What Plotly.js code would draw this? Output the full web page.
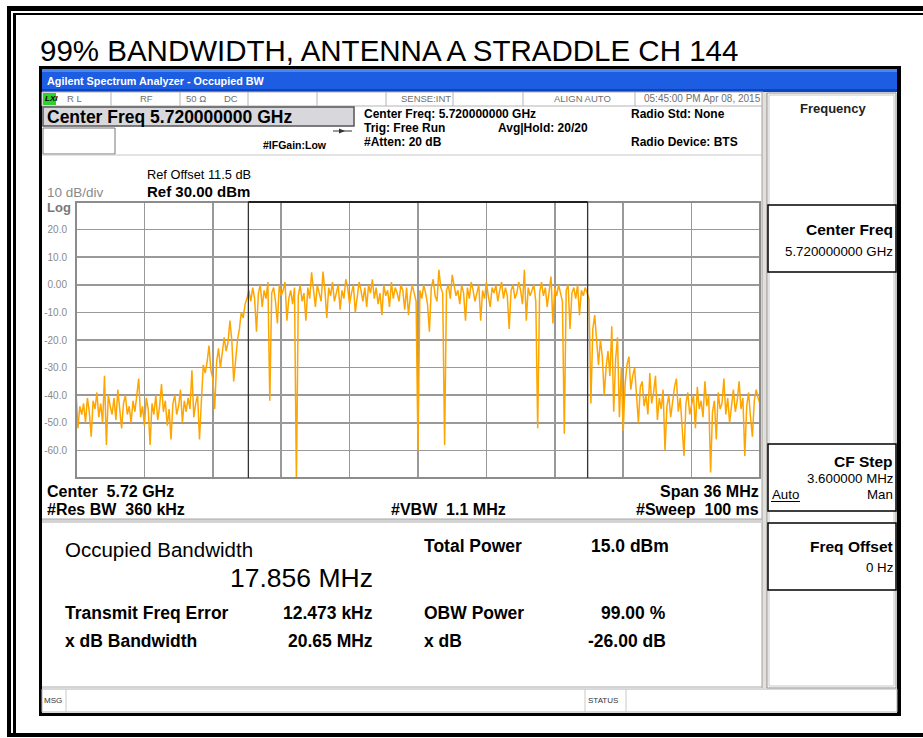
<!DOCTYPE html>
<html><head><meta charset="utf-8">
<script src="https://cdn.plot.ly/plotly-3.0.1.min.js"></script>
<style>html,body{margin:0;padding:0;background:#fff;overflow:hidden}#chart{width:923px;height:738px}</style>
</head><body><div id="chart"></div>
<script>
// Trace levels (dBm), one every 0.1 MHz from 5702 MHz to 5738 MHz
const levels = [
 -38,-52,-44,-47,-43,-50,-41,-46,-55,-42,
 -45,-39,-48,-43,-50,-33,-58,-40,-44,-47,
 -41,-49,-38,-45,-52,-43,-40,-47,-44,-50,
 -42,-46,-39,-34,-48,-44,-51,-41,-45,-58,
 -43,-47,-40,-49,-44,-36,-46,-42,-51,-45,
 -56,-43,-40,-47,-44,-38,-50,-42,-46,-41,
 -45,-31,-48,-43,-40,-56,-42,-29,-32,-28,
 -22,-31,-34,-45,-28,-23,-30,-25,-19,-24,
 -21,-13,-20,-35,-26,-20,-16,-10,-12,-7,
 -5,-2,-6,-1,-5,-17,-3,0,-8,-2,
 -5,1,-42,-3,-1,-6,-14,0,-4,-2,
 1,-13,-5,-2,-7,-1,-72,-4,0,-6,
 -3,-13,-1,-5,4.5,-2,-8,0,-3,-6,
 4.8,-2,-12,-1,-4,1,-6,-3,0,-9,
 -2,-5,2,-1,-7,-3,0,-10,-4,1,
 -2,-6,-1,-8,0,-3,2,-5,-1,-7,
 -3,-11,0,-4,-2,-8,1,-5,-1,-3,
 -6,0,-2,-9,-1,-11,-4,0,-3,-6,
 -60,-2,-5,0,-3,-7,-17,-1,2,-4,
 -6,5.4,-1,-3,-58,-2,0,-5,3.6,-1,
 -4,-2,-7,0,-3,-13,-1,-5,1,-2,
 -6,-3,0,-13,-2,-5,1,-4,-8,-1,
 -3,0,-6,-2,1,-5,-1,-4,-16,-2,
 0,-5,-3,1,-2,-7,5.4,-13,-1,-4,
 -2,0,-6,-52,-3,1,-4,-1,-8,-2,
 3,-14,-1,-4,0,-3,-6,-54,-2,0,
 -16,-3,-1,-5,0,-11,-2,-4,-1,-3,
 -5,-43,-16,-11,-22,-29,-20,-26,-40,-30,
 -24,-33,-15,-46,-27,-19,-48,-30,-53,-36,
 -29,-26,-38,-33,-30,-41,-50,-37,-35,-44,
 -40,-47,-32,-43,-39,-33,-49,-41,-45,-38,
 -60,-44,-40,-48,-42,-37,-34,-46,-41,-50,
 -62,-43,-39,-47,-44,-40,-52,-37,-45,-42,
 -48,-35,-44,-40,-68,-46,-42,-56,-39,-45,
 -43,-34,-47,-41,-50,-44,-38,-46,-42,-35,
 -45,-41,-62,-44,-39,-48,-55,-42,-38,-41,
 -43
];
const startMHz = 5702;
const stepMHz = 0.1;
const spanMHz = [5702, 5738];
const obwEdgesMHz = [5711.072, 5728.928];
const xGridMHz = [5705.6, 5709.2, 5712.8, 5716.4, 5720, 5723.6, 5727.2, 5730.8, 5734.4];
const yRange = [-70, 30];
const yTickVals = [20, 10, 0, -10, -20, -30, -40, -50, -60];
const yTickText = ['20.0', '10.0', '0.00', '-10.0', '-20.0', '-30.0', '-40.0', '-50.0', '-60.0'];

const freq = levels.map((_, i) => startMHz + i * stepMHz);

// pixel -> paper helpers (plot area: x 76..760, y 202..478)
const L = 76, R = 760, T = 202, B = 478;
const X = p => (p - L) / (R - L);
const Y = p => (B - p) / (B - T);
const FONT = 'Arial, "Liberation Sans", sans-serif';

const shapes = [];
function fill(x0, y0, x1, y1, color, layer) {
  shapes.push({type: 'rect', xref: 'paper', yref: 'paper', x0: X(x0), x1: X(x1), y0: Y(y1), y1: Y(y0),
    fillcolor: color, line: {width: 0}, layer: layer || 'below'});
}
function box(x0, y0, x1, y1, color, w, fillc, layer) {
  shapes.push({type: 'rect', xref: 'paper', yref: 'paper', x0: X(x0), x1: X(x1), y0: Y(y1), y1: Y(y0),
    fillcolor: fillc || 'rgba(0,0,0,0)', line: {color: color, width: w}, layer: layer || 'below'});
}
function seg(x0, y0, x1, y1, color, w, layer) {
  shapes.push({type: 'line', xref: 'paper', yref: 'paper', x0: X(x0), x1: X(x1), y0: Y(y0), y1: Y(y1),
    line: {color: color, width: w}, layer: layer || 'below'});
}
const ann = [];
function txt(s, x, y, size, o) {
  o = o || {};
  ann.push({xref: 'paper', yref: 'paper', x: X(x), y: Y(y), text: s, showarrow: false,
    xanchor: o.anchor || 'left', yanchor: 'middle', borderpad: 0,
    font: {family: o.family || FONT, size: size, color: o.color || '#000', weight: o.bold ? 'bold' : 'normal',
      style: o.italic ? 'italic' : 'normal'}});
}

// outer photo frame
fill(7, 6, 923, 11, '#000');
fill(7, 6, 11, 737, '#000');
fill(13, 13, 923, 15, '#000');
fill(13, 13, 16, 737, '#000');
fill(7, 733, 923, 737, '#000');

// instrument window
fill(39, 66, 901, 69, '#000');
fill(39, 66, 42, 716, '#000');
fill(897, 66, 901, 716, '#000');
fill(39, 713, 901, 716, '#000');
fill(42, 69, 897, 92, '#1D5DE2');
fill(42, 69, 897, 72, '#4A86F0');
fill(42, 89, 897, 92, '#0C43BE');
txt('Agilent Spectrum Analyzer - Occupied BW', 46, 81, 10.8, {color: '#fff', bold: true});

// status row
box(42, 92, 763, 106, '#b4b4b4', 1);
[111, 180, 248, 317, 386, 453, 523, 635].forEach(x => seg(x, 92, x, 106, '#b4b4b4', 1));
fill(43, 93, 56, 105, '#2ed12e');
txt('LXI', 43.5, 99, 8, {bold: true, italic: true});
txt('R L', 66, 99, 9.5, {color: '#707070'});
txt('RF', 139, 99, 9.5, {color: '#707070'});
txt('50 Ω', 185, 99, 9.5, {color: '#707070'});
txt('DC', 223, 99, 9.5, {color: '#707070'});
txt('SENSE:INT', 452, 99, 9.5, {color: '#707070', anchor: 'right'});
txt('ALIGN AUTO', 553, 99, 9.5, {color: '#707070'});
txt('05:45:00 PM Apr 08, 2015', 762, 99, 10, {color: '#707070', anchor: 'right'});

// header info
box(43, 107, 354, 126, '#555', 1.5, '#d8d8dc');
txt('Center Freq 5.720000000 GHz', 46, 117, 17.5, {bold: true});
box(43, 128, 115, 154, '#777', 1, '#fff');
seg(333, 131, 352, 131, '#333', 1);
shapes.push({type: 'path', xref: 'paper', yref: 'paper', layer: 'below',
  path: `M ${X(339)} ${Y(128.5)} L ${X(345)} ${Y(131)} L ${X(339)} ${Y(133.5)} Z`, fillcolor: '#333', line: {width: 0}});
txt('#IFGain:Low', 262, 145, 10.5, {bold: true});
txt('Center Freq: 5.720000000 GHz', 363, 114, 12, {bold: true});
txt('Trig: Free Run', 363, 128, 12, {bold: true});
txt('#Atten: 20 dB', 363, 142, 12, {bold: true});
txt('Avg|Hold: 20/20', 497, 128, 12, {bold: true});
txt('Radio Std: None', 630, 114, 12, {bold: true});
txt('Radio Device: BTS', 630, 142, 12, {bold: true});
seg(42, 155, 763, 155, '#c8c8c8', 1);

// main area border / softkey panel
fill(762, 92, 767, 688, '#e2e0da');
seg(762, 92, 762, 688, '#a0a0a0', 1);
box(767, 93, 896, 688, '#8c8c8c', 1, '#fff');
box(769, 95, 894, 686, '#c8c8c8', 1);
box(768, 205, 896, 272, '#000', 1.5, '#fff');
box(768, 444, 896, 511, '#000', 1.5, '#fff');
box(768, 523, 896, 590, '#000', 1.5, '#fff');
txt('Frequency', 833, 108, 13, {anchor: 'center', color: '#222', bold: true});
txt('Center Freq', 894, 229, 15.5, {anchor: 'right', bold: true});
txt('5.720000000 GHz', 894, 251, 13.3, {anchor: 'right'});
txt('CF Step', 894, 461, 15.5, {anchor: 'right', bold: true});
txt('3.600000 MHz', 894, 478, 13.3, {anchor: 'right'});
txt('Auto', 771, 494, 13.3);
seg(771, 501.5, 800, 501.5, '#000', 1);
txt('Man', 894, 494, 13.3, {anchor: 'right'});
txt('Freq Offset', 894, 546, 15.5, {anchor: 'right', bold: true});
txt('0 Hz', 894, 567, 13.3, {anchor: 'right'});

// ref labels
txt('Ref Offset 11.5 dB', 146, 174.5, 12.8);
txt('Ref 30.00 dBm', 146, 191.5, 15, {bold: true});
txt('10 dB/div', 46, 192, 13.5, {color: '#8a8a8a'});
txt('Log', 46, 207, 13, {color: '#777', bold: true});

// below graph
txt('Center  5.72 GHz', 46, 491, 16, {bold: true});
txt('Span 36 MHz', 760, 491, 16, {bold: true, anchor: 'right'});
txt('#Res BW  360 kHz', 46, 509, 16, {bold: true});
txt('#VBW  1.1 MHz', 390, 509, 16, {bold: true});
txt('#Sweep  100 ms', 760, 509, 16, {bold: true, anchor: 'right'});
fill(42, 519, 762, 523, '#d4d4d4');
seg(42, 519, 762, 519, '#a8a8a8', 1);

// results
txt('Occupied Bandwidth', 64, 549, 20.5);
txt('17.856 MHz', 374, 578, 26.5, {anchor: 'right'});
txt('Total Power', 423, 546, 17.5, {bold: true});
txt('15.0 dBm', 590, 546, 17.5, {bold: true});
txt('Transmit Freq Error', 64, 613, 17.5, {bold: true});
txt('12.473 kHz', 374, 613, 17.5, {bold: true, anchor: 'right'});
txt('OBW Power', 423, 613, 17.5, {bold: true});
txt('99.00 %', 667, 613, 17.5, {bold: true, anchor: 'right'});
txt('x dB Bandwidth', 64, 641, 17.5, {bold: true});
txt('20.65 MHz', 374, 641, 17.5, {bold: true, anchor: 'right'});
txt('x dB', 423, 641, 17.5, {bold: true});
txt('-26.00 dB', 667, 641, 17.5, {bold: true, anchor: 'right'});
seg(42, 687, 762, 687, '#a8a8a8', 1);

// message bar
box(42, 689, 897, 712, '#b4b4b4', 1, '#fff');
seg(66, 689, 66, 712, '#c8c8c8', 1);
seg(585, 689, 585, 712, '#c8c8c8', 1);
seg(626, 689, 626, 712, '#c8c8c8', 1);
txt('MSG', 43, 700, 8, {color: '#333'});
txt('STATUS', 587, 700, 8, {color: '#333'});

// page title
txt('99% BANDWIDTH, ANTENNA A STRADDLE CH 144', 39, 50, 29.5);

// plot border + OBW markers
shapes.push({type: 'rect', xref: 'paper', yref: 'paper', x0: 0, x1: 1, y0: 0, y1: 1,
  line: {color: '#8c8c8c', width: 2}, layer: 'above'});
obwEdgesMHz.forEach(f => shapes.push({type: 'line', xref: 'x', yref: 'paper', x0: f, x1: f, y0: 0, y1: 1,
  line: {color: '#333', width: 1.3}, layer: 'above'}));
shapes.push({type: 'line', xref: 'x', yref: 'paper', x0: obwEdgesMHz[0], x1: obwEdgesMHz[1], y0: 1, y1: 1,
  line: {color: '#222', width: 2}, layer: 'above'});

const trace = {x: freq, y: levels, type: 'scatter', mode: 'lines',
  line: {color: '#FFA500', width: 1.5}, hoverinfo: 'skip'};

const layout = {
  width: 923, height: 738,
  margin: {l: L, r: 923 - R, t: T, b: 738 - B, pad: 0},
  paper_bgcolor: '#fff', plot_bgcolor: '#fff',
  showlegend: false,
  xaxis: {range: spanMHz, tickmode: 'array', tickvals: xGridMHz, showticklabels: false, ticks: '',
    showgrid: true, gridcolor: '#999', gridwidth: 1.5, zeroline: false, showline: false, fixedrange: true},
  yaxis: {range: yRange, tickmode: 'array', tickvals: yTickVals, ticktext: yTickText,
    ticks: 'outside', ticklen: 6, tickcolor: 'rgba(0,0,0,0)',
    tickfont: {family: FONT, size: 10, color: '#8a8a8a'},
    showgrid: true, gridcolor: '#999', gridwidth: 1.5, zeroline: false, showline: false, fixedrange: true},
  shapes: shapes,
  annotations: ann
};

Plotly.newPlot('chart', [trace], layout, {staticPlot: true, displayModeBar: false});
</script>
</body></html>
